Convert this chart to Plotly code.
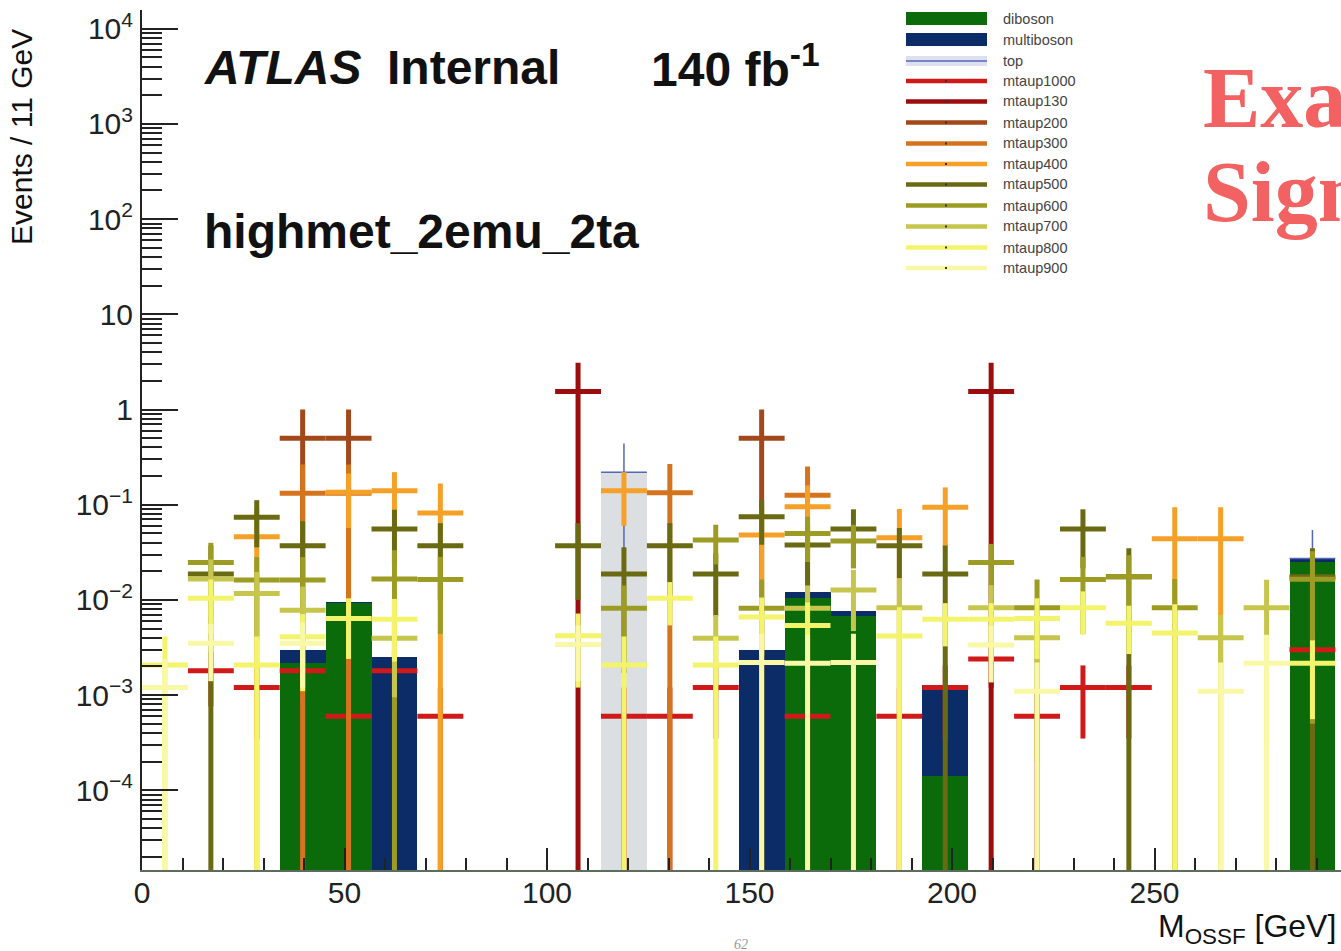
import plotly.graph_objects as go

# ---------------- data ----------------
BIN_WIDTH = 340.0 / 30          # ~11 GeV bins
N_BINS = 26                     # bins visible in the cropped view
X_MAX = 296.05
Y_LO, Y_HI = -4.837, 4.197      # log10 range

x_tickvals = [0, 50, 100, 150, 200, 250]
x_ticktext = ["0", "50", "100", "150", "200", "250"]
y_tickvals = [1e-4, 1e-3, 1e-2, 1e-1, 1, 10, 100, 1000, 10000]
y_ticktext = ["10<sup>\u22124</sup>", "10<sup>\u22123</sup>", "10<sup>\u22122</sup>", "10<sup>\u22121</sup>",
              "1", "10", "10<sup>2</sup>", "10<sup>3</sup>", "10<sup>4</sup>"]

N = None
# backgrounds (stacked)
diboson    = [N, N, N, 2.2e-3, 9.2e-3, N, N, N, N, N, N, N, N, N, 1.05e-2, 6.8e-3, N, 1.4e-4, N, N, N, N, N, N, N, 2.5e-2]
multiboson = [N, N, N, 7.5e-4, 4e-4, 2.5e-3, N, N, N, N, N, N, N, 3.0e-3, 1.6e-3, 8e-4, N, 1.15e-3, N, N, N, N, N, N, N, 1.8e-3]
top        = [N, N, N, N, N, N, N, N, N, N, 0.22, N, N, N, N, N, N, N, N, N, N, N, N, N, N, 4e-4]
top_err    = [N, N, N, N, N, N, N, N, N, N, 0.22, N, N, N, N, N, N, N, N, N, N, N, N, N, N, 0.027]

# signals: value and stat. error per bin
m1000_val = [N, 1.8e-3, 1.2e-3, 1.8e-3, 6e-4, 1.8e-3, 6e-4, N, N, N, 6e-4, 6e-4, 1.2e-3, N, 6e-4, N, 6e-4, 1.2e-3, 2.4e-3, 6e-4, 1.2e-3, 1.2e-3, N, N, N, 3e-3]
m1000_err = [N, 1.04e-3, 8.5e-4, 1.04e-3, 6e-4, 1.04e-3, 6e-4, N, N, N, 6e-4, 6e-4, 8.5e-4, N, 6e-4, N, 6e-4, 8.5e-4, 1.2e-3, 6e-4, 8.5e-4, 8.5e-4, N, N, N, 1.34e-3]

m130_val = [N, N, N, N, N, N, N, N, N, 1.55, N, N, N, N, N, N, N, N, 1.55, N, N, N, N, N, N, N]
m130_err = [N, N, N, N, N, N, N, N, N, 1.55, N, N, N, N, N, N, N, N, 1.55, N, N, N, N, N, N, N]

m200_val = [N, N, N, 0.5, 0.5, N, N, N, N, N, N, N, N, 0.5, N, N, N, N, N, N, N, N, N, N, N, N]
m200_err = [N, N, N, 0.5, 0.5, N, N, N, N, N, N, N, N, 0.5, N, N, N, N, N, N, N, N, N, N, N, N]

m300_val = [N, N, N, 0.132, 0.132, N, N, N, N, N, N, 0.134, N, N, 0.126, N, N, N, N, N, N, N, N, N, N, N]
m300_err = [N, N, N, 0.132, 0.132, N, N, N, N, N, N, 0.134, N, N, 0.126, N, N, N, N, N, N, N, N, N, N, N]

m400_val = [N, N, 0.046, N, 0.135, 0.14, 0.082, N, N, N, 0.14, N, N, 0.048, 0.095, N, 0.045, 0.094, N, N, N, N, 0.044, 0.044, N, N]
m400_err = [N, N, 0.046, N, 0.078, 0.08, 0.085, N, N, N, 0.08, N, N, 0.045, 0.065, N, 0.045, 0.058, N, N, N, N, 0.05, 0.05, N, N]

m500_val = [N, 0.0187, 0.0737, 0.037, N, 0.0555, 0.037, N, N, 0.037, 0.0187, 0.037, 0.0187, 0.075, 0.0377, 0.0555, 0.037, 0.0187, N, N, 0.0555, 0.0175, N, N, N, 0.0175]
m500_err = [N, 0.0187, 0.038, 0.03, N, 0.033, 0.027, N, N, 0.027, 0.017, 0.027, 0.012, 0.037, 0.024, 0.034, 0.02, 0.0187, N, N, 0.034, 0.0175, N, N, N, 0.0175]

m600_val = [N, 0.0248, 0.0162, 0.0162, N, 0.0166, 0.0164, N, N, N, 0.0082, N, 0.0426, 8.2e-3, 0.05, 0.0416, N, N, 0.0248, 8.3e-3, 0.0164, 0.0175, 8.3e-3, N, N, 0.0165]
m600_err = [N, 0.015, 0.012, 0.012, N, 0.0166, 0.012, N, N, N, 0.006, N, 0.019, 8.2e-3, 0.025, 0.02, N, N, 0.014, 8.1e-3, 0.012, 0.012, 8.3e-3, N, N, 0.016]

m700_val = [N, 0.0166, 0.0117, 7.8e-3, N, 3.95e-3, N, N, N, N, N, N, 3.95e-3, N, 8.2e-3, 0.0127, 8.3e-3, N, 8.3e-3, 4.0e-3, N, N, N, 4.0e-3, 8.3e-3, N]
m700_err = [N, 0.01, 0.008, 6e-3, N, 3e-3, N, N, N, N, N, N, 3e-3, N, 6e-3, 0.008, 8.3e-3, N, 6e-3, 3e-3, N, N, N, 3e-3, 8e-3, N]

m800_val = [2.07e-3, 0.0104, 2.07e-3, 4.1e-3, 6.4e-3, 6.25e-3, N, N, N, 4.2e-3, 2.07e-3, 0.0104, 2.07e-3, 6.6e-3, 5.4e-3, N, 4.18e-3, 6.25e-3, 6.25e-3, 6.4e-3, 8.3e-3, 5.7e-3, 4.5e-3, N, N, 2.16e-3]
m800_err = [2.07e-3, 6e-3, 2.07e-3, 3e-3, 4e-3, 4e-3, N, N, N, 3e-3, 2.07e-3, 5e-3, 2.07e-3, 4e-3, 4e-3, N, 4.18e-3, 3e-3, 3e-3, 4e-3, 4e-3, 3e-3, 4.5e-3, N, N, 1.6e-3]

m900_val = [1.2e-3, 3.5e-3, N, 3.5e-3, N, N, N, N, N, 3.4e-3, N, N, N, 2.2e-3, 2.16e-3, 2.2e-3, N, N, 3.36e-3, 1.1e-3, N, N, N, 1.1e-3, 2.16e-3, N]
m900_err = [1.2e-3, 2.1e-3, N, 2.3e-3, N, N, N, N, N, 2e-3, N, N, N, 2.2e-3, 2.16e-3, 2.2e-3, N, N, 2e-3, 1.1e-3, N, N, N, 1.1e-3, 2.16e-3, N]

# ---------------- styles ----------------
C_DIB, C_MULTI, C_TOP, C_TOPLINE = "#0b6b0b", "#0c2c68", "#dcdfe2", "#5566bb"
signals = [
    ("mtaup1000", m1000_val, m1000_err, "#d01a1a"),
    ("mtaup130",  m130_val,  m130_err,  "#9c0d0d"),
    ("mtaup200",  m200_val,  m200_err,  "#a2481a"),
    ("mtaup300",  m300_val,  m300_err,  "#d4741e"),
    ("mtaup400",  m400_val,  m400_err,  "#f5a027"),
    ("mtaup500",  m500_val,  m500_err,  "#6a6a12"),
    ("mtaup600",  m600_val,  m600_err,  "#9c9c24"),
    ("mtaup700",  m700_val,  m700_err,  "#c6c64e"),
    ("mtaup800",  m800_val,  m800_err,  "#f4f46c"),
    ("mtaup900",  m900_val,  m900_err,  "#f8f8a6"),
]

FONT = "Liberation Sans, Arial, Helvetica, sans-serif"
W, H = 1341, 951
ML, MT, MB, MR = 142, 10, 81, 0
PW, PH = W - ML - MR, H - MT - MB


def px(x):
    return (x - ML) / PW


def py(y):
    return (H - MB - y) / PH


centers = [BIN_WIDTH * (i + 0.5) for i in range(N_BINS)]

fig = go.Figure()

# stacked backgrounds
for name, vals, col in [("diboson", diboson, C_DIB), ("multiboson", multiboson, C_MULTI), ("top", top, C_TOP)]:
    fig.add_trace(go.Bar(x=centers, y=vals, width=BIN_WIDTH, name=name,
                         marker=dict(color=col, line=dict(width=0)),
                         showlegend=False, hoverinfo="skip"))

# top histogram line + error
tx, ty, te, tm = [], [], [], []
for c, d, m, t, e in zip(centers, diboson, multiboson, top, top_err):
    if t is None:
        continue
    tot = (d or 0) + (m or 0) + t
    tx.append(c); ty.append(tot); te.append(e)
    tm.append(tot * (1 - 1e-6) if e >= tot else e)
fig.add_trace(go.Scatter(x=tx, y=ty, mode="markers", marker=dict(size=1, color=C_TOPLINE),
                         error_x=dict(type="constant", value=BIN_WIDTH / 2, thickness=1.5, width=0, color=C_TOPLINE),
                         error_y=dict(type="data", array=te, arrayminus=tm, symmetric=False,
                                      thickness=1.5, width=0, color=C_TOPLINE),
                         showlegend=False, hoverinfo="skip"))

# signals drawn as crosses
for name, vals, errs, col in signals:
    xs, ys, ep, em = [], [], [], []
    for c, v, e in zip(centers, vals, errs):
        if v is None:
            continue
        xs.append(c); ys.append(v); ep.append(e)
        em.append(v * (1 - 1e-6) if e >= v else e)
    fig.add_trace(go.Scatter(x=xs, y=ys, mode="markers", name=name,
                             marker=dict(size=1, color=col),
                             error_x=dict(type="constant", value=BIN_WIDTH / 2, thickness=5, width=0, color=col),
                             error_y=dict(type="data", array=ep, arrayminus=em, symmetric=False,
                                          thickness=5, width=0, color=col),
                             showlegend=False, hoverinfo="skip"))

x_minor = [v for v in range(10, 300, 10) if v % 50 != 0]
y_minor = [k * 10.0 ** e for e in range(-5, 5) for k in range(2, 10)]

fig.update_xaxes(range=[0, X_MAX], showline=True, linecolor="#5d6d5d", linewidth=2,
                 ticks="inside", ticklen=22, tickwidth=2, tickcolor="#222",
                 tickvals=x_tickvals, ticktext=x_ticktext, ticklabelstandoff=-5,
                 tickfont=dict(family=FONT, size=30, color="#222"),
                 minor=dict(tickvals=x_minor, ticks="inside", ticklen=12, tickwidth=2, tickcolor="#222"),
                 showgrid=False, zeroline=False, automargin=False)
fig.update_yaxes(type="log", range=[Y_LO, Y_HI], showline=True, linecolor="#222", linewidth=2,
                 ticks="inside", ticklen=36, tickwidth=2, tickcolor="#222",
                 tickvals=y_tickvals, ticktext=y_ticktext, ticklabelstandoff=1,
                 tickfont=dict(family=FONT, size=30, color="#222"),
                 minor=dict(tickvals=y_minor, ticks="inside", ticklen=20, tickwidth=2, tickcolor="#222"),
                 showgrid=False, zeroline=False, automargin=False)

ann = []
shapes = []


def text(x, y, s, size, xanchor="left", color="#111", family=FONT, angle=0):
    ann.append(dict(x=px(x), y=py(y), xref="paper", yref="paper", text=s, showarrow=False,
                    xanchor=xanchor, yanchor="middle", textangle=angle, borderpad=0,
                    font=dict(family=family, size=size, color=color)))


text(203, 68, "<b><i>ATLAS</i></b>", 48)
text(386, 68, "<b>Internal</b>", 48)
text(650, 66, "<b>140 fb<sup>-1</sup></b>", 48)
text(203, 231, "<b>highmet_2emu_2ta</b>", 48)
text(22, 137, "Events / 11 GeV", 30, xanchor="center", angle=-90)
text(1337, 928, "M<sub>OSSF</sub> [GeV]", 32, xanchor="right")
text(1202, 98, "<b>Example</b>", 86, color="#f26262", family="Liberation Serif, DejaVu Serif, serif")
text(1202, 192, "<b>Signal</b>", 86, color="#f26262", family="Liberation Serif, DejaVu Serif, serif")
text(741, 944, "<i>62</i>", 14, xanchor="center", color="#999", family="Liberation Serif, serif")

# hand-drawn ROOT-style legend
leg_y = [18.5, 39.5, 61, 81, 101.5, 122.5, 143.5, 164, 184.5, 205.5, 226.5, 247.5, 268]
LX0, LX1, LTX = 906, 987, 1002


def rect(x0, y0, x1, y1, col):
    shapes.append(dict(type="rect", xref="paper", yref="paper", x0=px(x0), x1=px(x1), y0=py(y1), y1=py(y0),
                       fillcolor=col, line=dict(width=0)))


def hline(x0, x1, y, col, w):
    shapes.append(dict(type="line", xref="paper", yref="paper", x0=px(x0), x1=px(x1), y0=py(y), y1=py(y),
                       line=dict(color=col, width=w)))


rect(LX0, leg_y[0] - 6.5, LX1, leg_y[0] + 6.5, C_DIB)
text(LTX, leg_y[0], "diboson", 14.5, color="#444")
rect(LX0, leg_y[1] - 6.5, LX1, leg_y[1] + 6.5, C_MULTI)
text(LTX, leg_y[1], "multiboson", 14.5, color="#444")
rect(LX0, leg_y[2] - 5, LX1, leg_y[2] + 5, "#dde0ee")
hline(LX0, LX1, leg_y[2], C_TOPLINE, 1.5)
text(LTX, leg_y[2], "top", 14.5, color="#444")
for (name, _, _, col), yy in zip(signals, leg_y[3:]):
    hline(LX0, LX1, yy, col, 4.5)
    rect(945, yy - 1, 947, yy + 1, "#333")
    text(LTX, yy, name, 14.5, color="#444")

fig.update_layout(width=W, height=H, autosize=False,
                  margin=dict(l=ML, r=MR, t=MT, b=MB, pad=0),
                  paper_bgcolor="white", plot_bgcolor="white",
                  barmode="stack", bargap=0, showlegend=False,
                  annotations=ann, shapes=shapes,
                  font=dict(family=FONT, color="#222"))

fig.write_html("out.html", config={"displayModeBar": False, "staticPlot": True},
               post_script="document.body.style.margin='0';document.body.style.overflow='hidden';")
